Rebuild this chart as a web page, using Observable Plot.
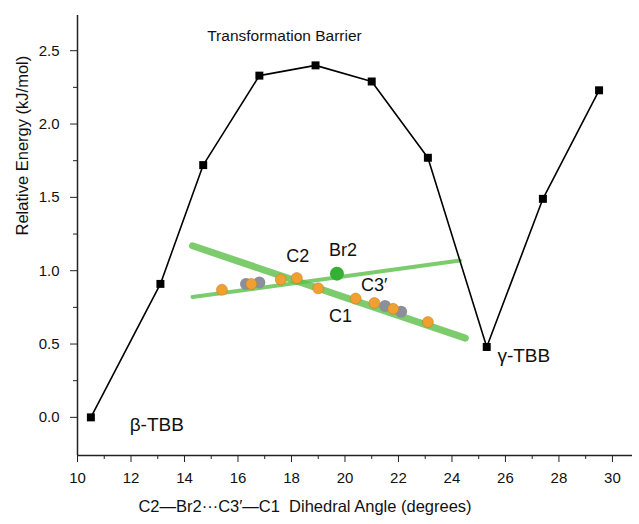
<!DOCTYPE html>
<html><head><meta charset="utf-8">
<script src="https://cdn.jsdelivr.net/npm/d3@7"></script>
<script src="https://cdn.jsdelivr.net/npm/@observablehq/plot@0.6"></script>
<style>body{margin:0;background:#fff;font-family:Arial,"Liberation Sans",sans-serif}</style>
</head><body><div id="chart"></div>
<script>
const angle = [10.5, 13.1, 14.7, 16.8, 18.9, 21.0, 23.1, 25.3, 27.4, 29.5];
const energy = [0.0, 0.91, 1.72, 2.33, 2.40, 2.29, 1.77, 0.48, 1.49, 2.23];
const data = angle.map((a, i) => ({a, e: energy[i]}));
const xMajor = d3.range(10, 31, 2);
const xMinor = d3.range(11, 31, 2);
const yMajor = [0, 0.5, 1, 1.5, 2, 2.5];
const yMinor = [0.25, 0.75, 1.25, 1.75, 2.25];

// molecular inset (approximate)
const plane1 = [{a: 14.3, e: 1.17}, {a: 24.5, e: 0.54}];
const plane2 = [{a: 14.3, e: 0.82}, {a: 24.3, e: 1.07}];
const atoms = [[15.4,0.87],[16.5,0.91],[17.6,0.94],[18.2,0.95],[19.0,0.88],[20.4,0.81],[21.1,0.78],[21.8,0.74],[23.1,0.65]].map(([a,e]) => ({a, e}));
const grey = [[16.3,0.91],[16.8,0.92],[21.5,0.76],[22.1,0.72]].map(([a,e]) => ({a, e}));
const labels = [
  {a: 17.8, e: 1.1, t: "C2", s: 18}, {a: 19.4, e: 1.14, t: "Br2", s: 18},
  {a: 20.6, e: 0.9, t: "C3\u2032", s: 18}, {a: 19.4, e: 0.69, t: "C1", s: 18},
  {a: 11.95, e: -0.05, t: "\u03b2-TBB", s: 19}, {a: 25.7, e: 0.42, t: "\u03b3-TBB", s: 19},
  {a: 14.85, e: 2.6, t: "Transformation Barrier", s: 15.5}
];

const chart = Plot.plot({
  width: 639, height: 524,
  marginLeft: 77, marginRight: 7, marginTop: 15, marginBottom: 69,
  style: {fontSize: "16px", fontFamily: "Arial, 'Liberation Sans', sans-serif", color: "#222"},
  x: {type: "linear", domain: [10, 30.75], label: null},
  y: {type: "linear", domain: [-0.26, 2.74], label: null},
  marks: [
    Plot.axisX({ticks: xMinor, tickSize: 4, text: null, label: null}),
    Plot.axisX({ticks: xMajor, tickSize: 7, text: null, label: null}),
    Plot.text(xMajor, {x: d => d, y: () => -0.26, dy: 23, text: d => String(d), fontSize: 15, fill: "#111"}),
    Plot.axisY({ticks: yMinor, tickSize: 4, text: null, label: null}),
    Plot.axisY({ticks: yMajor, tickSize: 7, text: null, label: null}),
    Plot.text(yMajor, {y: d => d, x: () => 10, dx: -18, textAnchor: "end", text: d => d3.format(".1f")(d), fontSize: 15, fill: "#111"}),
    Plot.ruleX([10], {stroke: "#222", strokeWidth: 1.5}),
    Plot.ruleY([-0.26], {stroke: "#222", strokeWidth: 1.5}),
    Plot.line(plane1, {x: "a", y: "e", stroke: "#5bbf4a", strokeWidth: 7, strokeOpacity: 0.8}),
    Plot.line(plane2, {x: "a", y: "e", stroke: "#5bbf4a", strokeWidth: 4, strokeOpacity: 0.8}),
    Plot.dot(grey, {x: "a", y: "e", r: 6, fill: "#8a8f99"}),
    Plot.dot(atoms, {x: "a", y: "e", r: 5.5, fill: "#f0a030", stroke: "#b87a20", strokeWidth: 0.5}),
    Plot.dot([{a: 19.7, e: 0.98}], {x: "a", y: "e", r: 7, fill: "#35b035"}),
    Plot.line(data, {x: "a", y: "e", stroke: "#000", strokeWidth: 1.6}),
    Plot.dot(data, {x: "a", y: "e", symbol: "square", r: 4.5, fill: "#000"}),
    ...labels.map(l => Plot.text([l], {x: "a", y: "e", text: "t", textAnchor: "start", fontSize: l.s, fill: "#111"})),
    Plot.text(["C2\u2014Br2\u00b7\u00b7\u00b7C3\u2032\u2014C1  Dihedral Angle (degrees)"], {frameAnchor: "bottom", dx: -50, dy: 56, fontSize: 16.5, fill: "#111"}),
    Plot.text(["Relative Energy (kJ/mol)"], {frameAnchor: "left", dx: -55, rotate: -90, fontSize: 16.5, fill: "#111"})
  ]
});
document.getElementById("chart").append(chart);
</script></body></html>
